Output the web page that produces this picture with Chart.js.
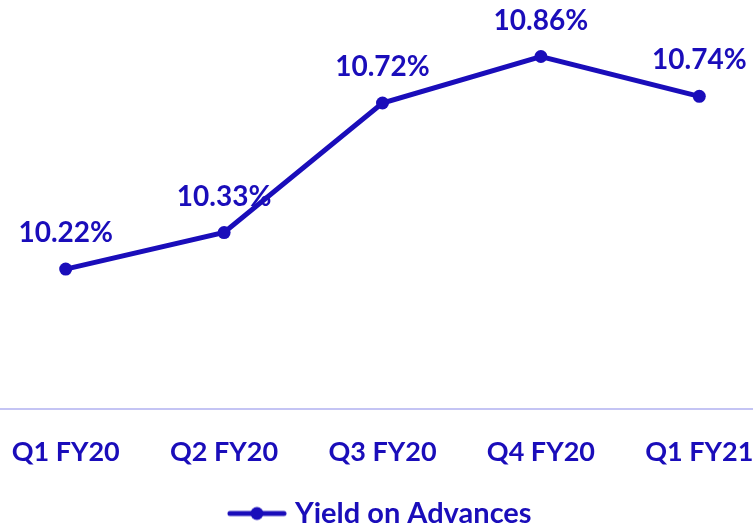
<!DOCTYPE html>
<html><head><meta charset="utf-8">
<script src="https://cdn.jsdelivr.net/npm/chart.js@4/dist/chart.umd.min.js"></script>
<style>
html,body{margin:0;padding:0;overflow:hidden;background:#fff;width:753px;height:528px;}
#wrap{position:absolute;left:-20px;top:0;width:805px;height:538px;}
</style></head>
<body>
<div id="wrap"><canvas id="c" width="805" height="538"></canvas></div>
<script>
const categories = ["Q1 FY20","Q2 FY20","Q3 FY20","Q4 FY20","Q1 FY21"];
const yieldValues = [10.22,10.33,10.72,10.86,10.74];
const seriesName = "Yield on Advances";
const COLOR = "#1a0dba";
const FONT = "Lato, 'Liberation Sans', sans-serif";

// legend marker: line with dot
const mk = document.createElement('canvas');
mk.width = 60; mk.height = 16;
const mctx = mk.getContext('2d');
mctx.strokeStyle = COLOR; mctx.lineWidth = 5; mctx.lineCap = 'round';
mctx.beginPath(); mctx.moveTo(3,8); mctx.lineTo(57,8); mctx.stroke();
mctx.fillStyle = COLOR; mctx.beginPath(); mctx.arc(30,8,6.5,0,Math.PI*2); mctx.fill();

const labelPlugin = {
  id:'valLabels',
  afterDatasetsDraw(chart){
    const ctx = chart.ctx;
    const meta = chart.getDatasetMeta(0);
    ctx.save();
    ctx.font = "bold 28px " + FONT;
    ctx.fillStyle = COLOR;
    ctx.textAlign = 'center';
    ctx.textBaseline = 'middle';
    meta.data.forEach((pt,i)=>{
      ctx.fillText(yieldValues[i].toFixed(2)+'%', pt.x, pt.y-36);
    });
    ctx.restore();
  }
};

new Chart(document.getElementById('c'), {
  type:'line',
  data:{labels:categories, datasets:[{
    label:seriesName, data:yieldValues,
    borderColor:COLOR, backgroundColor:COLOR, borderWidth:5,
    pointRadius:6.5, pointHoverRadius:6.5, pointBackgroundColor:COLOR, pointBorderWidth:0,
    tension:0
  }]},
  options:{
    responsive:false, animation:false, devicePixelRatio:1,
    layout:{padding:{top:10,left:0,right:0,bottom:0}},
    plugins:{
      legend:{position:'bottom', labels:{
        usePointStyle:true, pointStyleWidth:47, padding:4,
        color:COLOR, font:{family:FONT, size:29, weight:'bold'},
        generateLabels(chart){
          return [{text:seriesName, pointStyle:mk, fillStyle:COLOR, strokeStyle:COLOR, lineWidth:0, fontColor:COLOR, datasetIndex:0, hidden:false}];
        }
      }},
      tooltip:{enabled:false}
    },
    scales:{
      x:{offset:true, grid:{display:false, drawTicks:false},
         border:{display:true, color:'#c4c4f4', width:2},
         ticks:{color:COLOR, font:{family:FONT, size:27, weight:'bold'}, padding:27, maxRotation:0}},
      y:{display:false, min:9.8, max:11.0}
    }
  },
  plugins:[labelPlugin]
});
</script>
</body></html>
